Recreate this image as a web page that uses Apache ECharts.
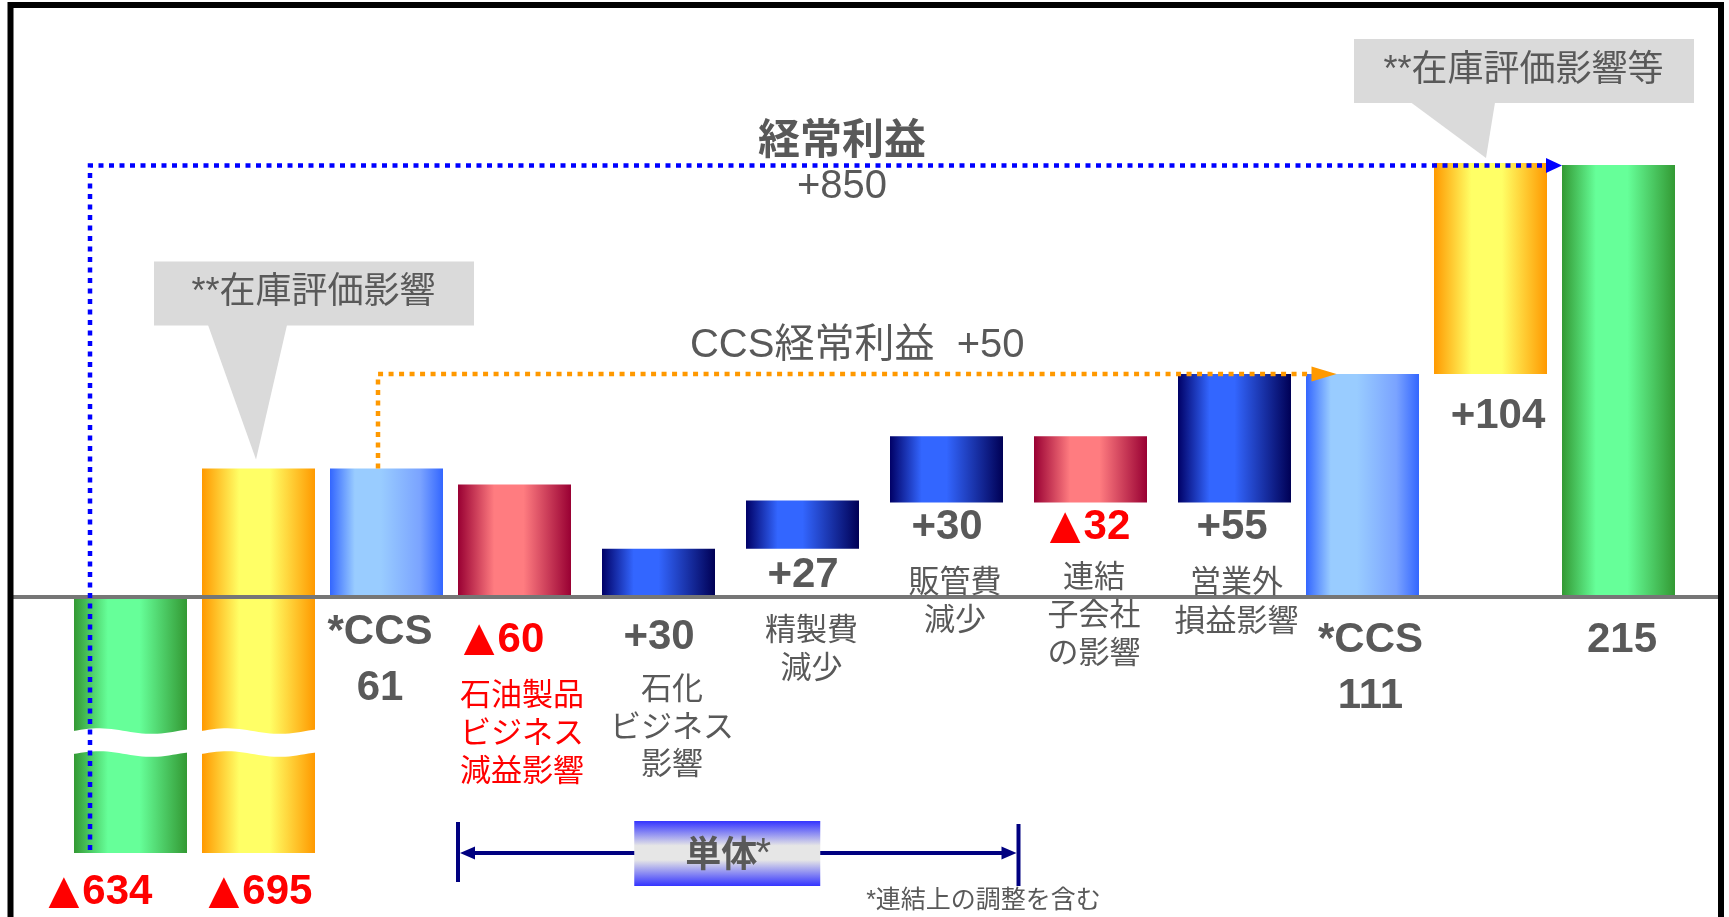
<!DOCTYPE html>
<html><head><meta charset="utf-8">
<script src="https://cdn.jsdelivr.net/npm/echarts@6/dist/echarts.min.js"></script>
<style>html,body{margin:0;padding:0;background:#fff;}#c{width:1729px;height:917px;}</style>
</head><body><div id="c"></div>
<script>
// ---------------- data ----------------
const categories = ['前年経常利益','在庫評価影響','前年CCS経常利益','石油製品','石化','精製費','販管費','連結子会社','営業外損益','CCS経常利益','在庫評価影響等','経常利益'];
// bar extents as drawn in the chart (億円)
const barLow  = [-634, -634, 0, 0, 0, 24, 47, 47, 47, 0, 111, 0];
const barHigh = [0, 64, 64, 56, 24, 48, 80, 80, 111, 111, 216, 215];
const valueLabels = ['▲634','▲695','*CCS\n61','▲60','+30','+27','+30','▲32','+55','*CCS\n111','+104','215'];
const descLabels = ['','','','石油製品\nビジネス\n減益影響','石化\nビジネス\n影響','精製費\n減少','販管費\n減少','連結\n子会社\nの影響','営業外\n損益影響','','',''];
const barKinds = ['green','orange','light','red','navy','navy','navy','red','navy','light','orange','green'];
const isNegative = [true,true,false,true,false,false,false,true,false,false,false,false];
const axisBreak = {start: -586, end: -65};
const yMin = -634, yMax = 280;
const ordinaryTitle = '経常利益', ordinaryDelta = '+850';
const ccsTitle = 'CCS経常利益  +50';
const callout1 = '**在庫評価影響', callout2 = '**在庫評価影響等';
const standaloneText = '単体', footnote = '*連結上の調整を含む';

// ---------------- layout / style ----------------
const groups = [[0,4],[4,8],[8,12]];
const gridLeft = [66.5, 586.5, 1170.5], gridWidth = [512, 576, 512];
const GRID_TOP = 34.4, GRID_H = 818.6, BAR_W = 113;
const GRAY = '#595959', RED = '#FF0000';
const FONT_LAT = '"Liberation Sans", Arial, "Noto Sans CJK JP", sans-serif';
const FONT_JP = '"Noto Sans CJK JP", "Liberation Sans", sans-serif';
const gradStops = {
  green:  [[0,'#339933'],[0.3,'#66FF99'],[0.58,'#66FF99'],[1,'#339933']],
  orange: [[0,'#FF9900'],[0.33,'#FFFF66'],[0.6,'#FFFF66'],[1,'#FF9900']],
  light:  [[0,'#3366FF'],[0.22,'#99CCFF'],[0.45,'#99CCFF'],[0.8,'#7AA3FF'],[1,'#3366FF']],
  red:    [[0,'#990033'],[0.32,'#FF7C80'],[0.58,'#FF7C80'],[1,'#990033']],
  navy:   [[0,'#000066'],[0.28,'#3366FF'],[0.5,'#3366FF'],[1,'#000055']]
};
// label offsets relative to bar centre / bar bottom
const valueOff = [[-30,39.5],[2,39.5],[-6.5,63.5],[-10.5,43],[0.5,40],[0.5,27],[0.5,25],[-0.5,25],[-2.5,25],[8,71],[7.5,42.4],[3.5,43]];
const descOff  = [null,null,null,[7.5,134,38],[13.5,128,37.5],[9,98,38],[8.5,96.5,37.5],[3.5,110.5,38],[2,97,39]];

function grad(kind, vertical){
  return new echarts.graphic.LinearGradient(0,0,vertical?0:1,vertical?1:0,
    gradStops[kind].map(s=>({offset:s[0], color:s[1]})));
}
function groupOf(i){ return groups.findIndex(g=>i>=g[0] && i<g[1]); }

function renderItem(params, api){
  const cat = api.value(0), lo = api.value(1), hi = api.value(2), gi = api.value(3);
  const pLo = api.coord([cat, lo]), pHi = api.coord([cat, hi]);
  const x = pLo[0] - BAR_W/2;
  const children = [{type:'rect', shape:{x:x, y:pHi[1], width:BAR_W, height:pLo[1]-pHi[1]},
                     style:{fill:grad(barKinds[gi])}}];
  if (lo < axisBreak.start){
    const yt = api.coord([cat, axisBreak.end])[1];
    const yb = api.coord([cat, axisBreak.start])[1];
    const pts = [], N = 30;
    for (let j=0;j<=N;j++){ const t=j/N; pts.push([x-1+(BAR_W+2)*t, yt+3.5+2.8*Math.sin(2*Math.PI*t*1.1+Math.PI)]); }
    for (let j=N;j>=0;j--){ const t=j/N; pts.push([x-1+(BAR_W+2)*t, yb-2.5+2.8*Math.sin(2*Math.PI*t*1.1+Math.PI)]); }
    children.push({type:'polygon', shape:{points:pts}, style:{fill:'#ffffff'}});
  }
  return {type:'group', children};
}

const chart = echarts.init(document.getElementById('c'), null, {renderer:'canvas'});
const option = {
  animation:false,
  backgroundColor:'#ffffff',
  grid: groups.map((g,k)=>({left:gridLeft[k], top:GRID_TOP, width:gridWidth[k], height:GRID_H})),
  xAxis: groups.map((g,k)=>({type:'category', gridIndex:k, data:categories.slice(g[0],g[1]), show:false})),
  yAxis: groups.map((g,k)=>({type:'value', gridIndex:k, min:yMin, max:yMax,
    breaks:[{start:axisBreak.start, end:axisBreak.end, gap:'3.54%'}],
    breakArea:{show:false},
    axisLine:{show:false}, axisTick:{show:false}, axisLabel:{show:false}, splitLine:{show:false}})),
  series: groups.map((g,k)=>({type:'custom', xAxisIndex:k, yAxisIndex:k, renderItem, silent:true,
    encode:{x:0, y:[1,2]},
    data: categories.slice(g[0],g[1]).map((c,j)=>[j, barLow[g[0]+j], barHigh[g[0]+j], g[0]+j])}))
};
chart.setOption(option);

function P(i, v){ const k=groupOf(i); return chart.convertToPixel({xAxisIndex:k, yAxisIndex:k}, [i-groups[k][0], v]); }
function txt(x,y,text,size,color,bold,font,lh,rich){
  const st = {text, fontSize:size, fontWeight:bold?'bold':'normal',
    fontFamily:font||FONT_LAT, fill:color, align:'center', verticalAlign:'middle', lineHeight:lh||size*1.2};
  if (rich) st.rich = rich;
  return {type:'text', x, y, z:100, silent:true, style:st};
}
const G = [];
const y0 = P(0,0)[1], yBottom = P(0,yMin)[1];
// zero line
G.push({type:'line', z:90, silent:true, shape:{x1:10, y1:y0, x2:1721, y2:y0}, style:{stroke:'#767676', lineWidth:4}});
// value + description labels
const triRich = {t:{fontFamily:'"DejaVu Sans", sans-serif', fontSize:40, fill:RED, lineHeight:56, padding:[0,3,0,0]}};
valueLabels.forEach((t,i)=>{
  const c = P(i, barLow[i]);
  const o = valueOff[i];
  const s = t.replace('▲','{t|▲}');
  G.push(txt(c[0]+o[0], c[1]+o[1], s, 42, isNegative[i]?RED:GRAY, true, FONT_LAT, 56, triRich));
  const d = descOff[i];
  if (d && descLabels[i]) G.push(txt(c[0]+d[0], c[1]+d[1], descLabels[i], 31, i===3?RED:GRAY, false, FONT_JP, d[2]));
});
// blue dotted connector (ordinary profit)
const bx = P(0,0)[0]-40.5, bTop = P(11, barHigh[11])[1]+0.5, bBot = yBottom-3;
const bTip = P(11,0)[0]-BAR_W/2;
G.push({type:'polyline', z:95, silent:true, shape:{points:[[bx,bBot],[bx,bTop],[bTip-14,bTop]]},
  style:{stroke:'#0000FF', lineWidth:4.5, lineDash:[5,5.5], fill:null}});
G.push({type:'polygon', z:95, silent:true, shape:{points:[[bTip-16,bTop-7.5],[bTip,bTop],[bTip-16,bTop+7.5]]}, style:{fill:'#0000FF'}});
G.push(txt((bx+bTip)/2+16, bTop-27, ordinaryTitle, 42, GRAY, true, FONT_JP));
G.push(txt((bx+bTip)/2+16, bTop+21, ordinaryDelta, 40, GRAY, false, FONT_LAT));
// orange dotted connector (CCS)
const ox = P(2,0)[0]-8.5, oBot = P(2, barHigh[2])[1], oTop = P(9, barHigh[9])[1];
const oTip = P(9,0)[0]-BAR_W/2+30.5;
G.push({type:'polyline', z:95, silent:true, shape:{points:[[ox,oBot],[ox,oTop],[oTip-22,oTop]]},
  style:{stroke:'#FF9900', lineWidth:4.5, lineDash:[5,5.5], fill:null}});
G.push({type:'polygon', z:95, silent:true, shape:{points:[[oTip-25,oTop-7.5],[oTip,oTop],[oTip-25,oTop+7.5]]}, style:{fill:'#FF9900'}});
G.push(txt((ox+oTip)/2, oTop-28, ccsTitle, 40, GRAY, false, FONT_LAT));
// callout 1
const a1 = [P(1,0)[0], P(1, barHigh[1])[1]];
G.push({type:'rect', z:80, silent:true, shape:{x:a1[0]-104.5, y:a1[1]-207, width:320, height:64}, style:{fill:'#DADADA'}});
G.push({type:'polygon', z:80, silent:true, shape:{points:[[a1[0]-50.5,a1[1]-143.5],[a1[0]+28.5,a1[1]-143.5],[a1[0]-2.5,a1[1]-9]]}, style:{fill:'#DADADA'}});
G.push(txt(a1[0]+55, a1[1]-175, callout1, 36, GRAY, false, FONT_LAT));
// callout 2
const a2 = [P(10,0)[0], P(10, barHigh[10])[1]];
G.push({type:'rect', z:80, silent:true, shape:{x:a2[0]-136.5, y:a2[1]-124, width:340, height:64}, style:{fill:'#DADADA'}});
G.push({type:'polygon', z:80, silent:true, shape:{points:[[a2[0]-79.5,a2[1]-60.5],[a2[0]+4.5,a2[1]-60.5],[a2[0]-4.5,a2[1]-5]]}, style:{fill:'#DADADA'}});
G.push(txt(a2[0]+33, a2[1]-92, callout2, 36, GRAY, false, FONT_LAT));
// standalone bracket
const brL = P(3,0)[0]-BAR_W/2, brR = (P(6,0)[0]+P(7,0)[0])/2, brY = yBottom;
G.push({type:'line', z:90, silent:true, shape:{x1:brL+10, y1:brY, x2:brR-10, y2:brY}, style:{stroke:'#000080', lineWidth:4}});
G.push({type:'line', z:90, silent:true, shape:{x1:brL, y1:brY-31, x2:brL, y2:brY+29}, style:{stroke:'#000080', lineWidth:4}});
G.push({type:'line', z:90, silent:true, shape:{x1:brR, y1:brY-29, x2:brR, y2:brY+33}, style:{stroke:'#000080', lineWidth:4}});
G.push({type:'polygon', z:90, silent:true, shape:{points:[[brL+2,brY],[brL+17,brY-6.5],[brL+17,brY+6.5]]}, style:{fill:'#000080'}});
G.push({type:'polygon', z:90, silent:true, shape:{points:[[brR-2,brY],[brR-17,brY-6.5],[brR-17,brY+6.5]]}, style:{fill:'#000080'}});
const boxCx = (brL+brR)/2-11;
G.push({type:'rect', z:91, silent:true, shape:{x:boxCx-93, y:brY-32, width:186, height:65},
  style:{fill:new echarts.graphic.LinearGradient(0,0,0,1,[{offset:0,color:'#3333FF'},{offset:0.38,color:'#E6E6E6'},{offset:0.6,color:'#E6E6E6'},{offset:1,color:'#3333FF'}])}});
G.push(txt(boxCx-6, brY, standaloneText, 36, GRAY, true, FONT_JP, 44));
G.push(txt(boxCx+36, brY+2, '*', 40, GRAY, false, FONT_LAT, 44));
G.push(txt(brR-35, brY+48, footnote, 25, GRAY, false, FONT_LAT));
// frame
G.push({type:'rect', z:120, silent:true, shape:{x:10.5, y:5, width:1710.5, height:960}, style:{fill:'none', stroke:'#000', lineWidth:6}});
chart.setOption({graphic:{elements:G}});
</script></body></html>
